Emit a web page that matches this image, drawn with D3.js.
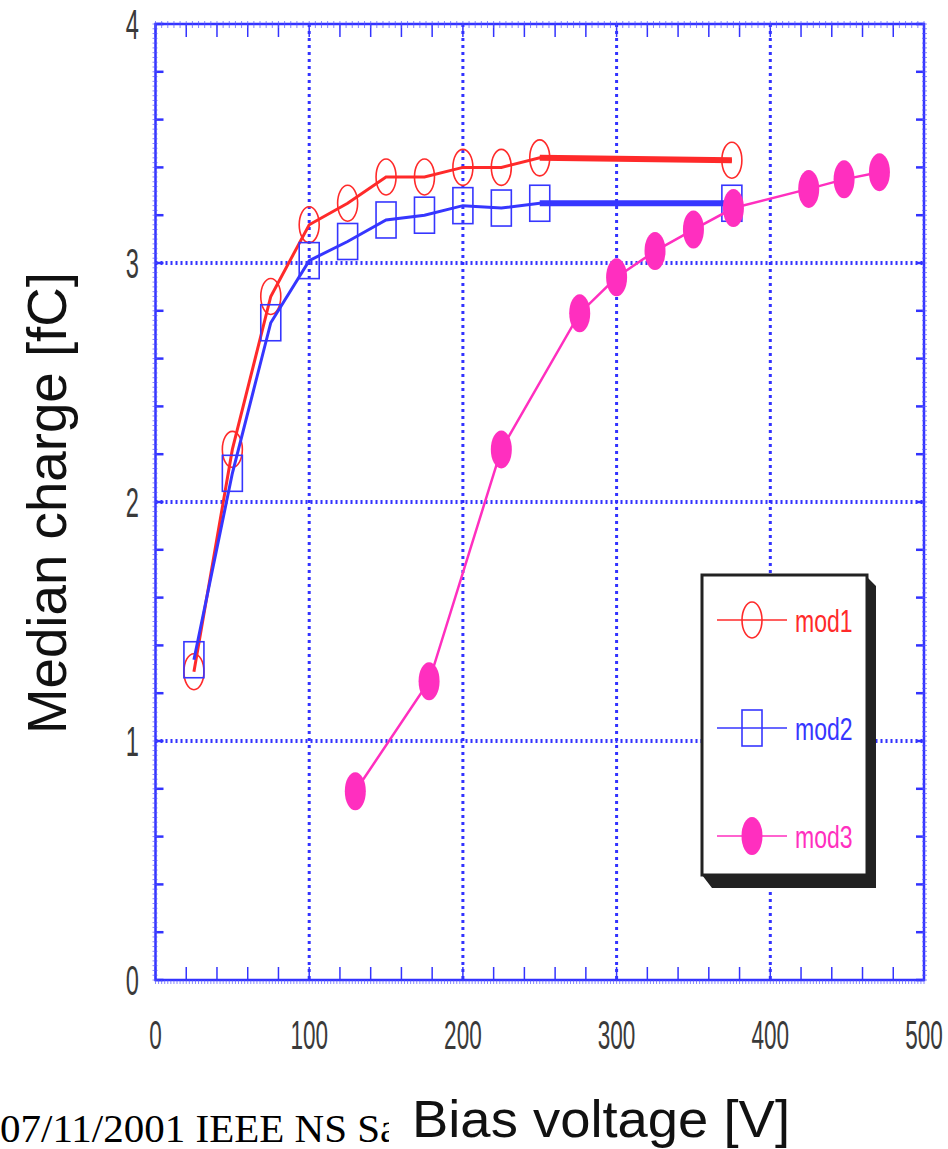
<!DOCTYPE html>
<html>
<head>
<meta charset="utf-8">
<script src="https://cdn.jsdelivr.net/npm/d3@7"></script>
<style>
  body { margin: 0; background: #fff; }
  svg { display: block; }
</style>
</head>
<body>
<div id="chart"></div>
<script>
// values
const mod12Volts = [25, 50, 75, 100, 125, 150, 175, 200, 225, 250, 375];
const mod1Charge = [1.29, 2.22, 2.86, 3.16, 3.25, 3.36, 3.36, 3.40, 3.40, 3.44, 3.43];
const mod2Charge = [1.34, 2.12, 2.75, 3.01, 3.09, 3.18, 3.20, 3.24, 3.23, 3.25, 3.25];
const mod3Volts = [130, 178, 225, 276, 300, 325, 350, 376, 425, 448, 471];
const mod3Charge = [0.79, 1.25, 2.22, 2.79, 2.94, 3.05, 3.14, 3.23, 3.31, 3.35, 3.38];
const xTicks = [0, 100, 200, 300, 400, 500];
const yTicks = [0, 1, 2, 3, 4];
const legendLabels = ["mod1", "mod2", "mod3"];

const W = 948, H = 1149;
const blue = "#3333ff";

const series = [
  {name: legendLabels[0], color: "#ff2a2a", marker: "circle", width: 3,
   data: mod12Volts.map((v, i) => ({v: v, q: mod1Charge[i]}))},
  {name: legendLabels[1], color: "#3636ff", marker: "square", width: 3,
   data: mod12Volts.map((v, i) => ({v: v, q: mod2Charge[i]}))},
  {name: legendLabels[2], color: "#ff2fbf", marker: "dot", width: 2.5,
   data: mod3Volts.map((v, i) => ({v: v, q: mod3Charge[i]}))}
];

const svg = d3.select("#chart")
  .append("svg")
  .attr("width", W)
  .attr("height", H);

svg.append("rect").attr("width", W).attr("height", H).attr("fill", "#fff");

const x = d3.scaleLinear().domain([0, 500]).range([155.5, 924]);
const y = d3.scaleLinear().domain([0, 4]).range([980, 24]);

// grid
const grid = svg.append("g");
grid.selectAll("line.vg")
  .data(xTicks.slice(1, -1))
  .join("line")
  .attr("x1", d => x(d)).attr("x2", d => x(d))
  .attr("y1", y(4)).attr("y2", y(0))
  .attr("stroke", blue).attr("stroke-width", 3)
  .attr("stroke-dasharray", "3,4");
grid.selectAll("line.hg")
  .data(yTicks.slice(1, -1))
  .join("line")
  .attr("x1", x(0)).attr("x2", x(500))
  .attr("y1", d => y(d)).attr("y2", d => y(d))
  .attr("stroke", blue).attr("stroke-width", 4)
  .attr("stroke-dasharray", "2,3");

// frame + ticks
const axes = svg.append("g").attr("stroke", blue);
axes.append("rect")
  .attr("x", x(0)).attr("y", y(4))
  .attr("width", x(500) - x(0)).attr("height", y(0) - y(4))
  .attr("fill", "none").attr("stroke-width", 2.5);

const xMinor = d3.range(0, 501, 20);
const xMicro = d3.range(0, 501, 2);
const yMinor = d3.range(0, 4.001, 0.2);
const yMicro = d3.range(0, 4.001, 0.02);

axes.selectAll("line.xb").data(xMinor).join("line")
  .attr("x1", d => x(d)).attr("x2", d => x(d))
  .attr("y1", y(0)).attr("y2", y(0) - 13).attr("stroke-width", 1.5);
axes.selectAll("line.xt").data(xMinor).join("line")
  .attr("x1", d => x(d)).attr("x2", d => x(d))
  .attr("y1", y(4)).attr("y2", y(4) + 13).attr("stroke-width", 1.5);
axes.selectAll("line.yl").data(yMinor).join("line")
  .attr("x1", x(0)).attr("x2", x(0) + 8)
  .attr("y1", d => y(d)).attr("y2", d => y(d)).attr("stroke-width", 2.5);
axes.selectAll("line.yr").data(yMinor).join("line")
  .attr("x1", x(500)).attr("x2", x(500) - 8)
  .attr("y1", d => y(d)).attr("y2", d => y(d)).attr("stroke-width", 2.5);

// tiny hatch along the axes
const hatch = svg.append("g").attr("stroke", "#5555ff").attr("stroke-width", 1).attr("opacity", 0.7);
hatch.selectAll("line.hb").data(xMicro).join("line")
  .attr("x1", d => x(d)).attr("x2", d => x(d))
  .attr("y1", y(0)).attr("y2", y(0) + 4);
hatch.selectAll("line.ht").data(xMicro.filter((d, i) => i % 2 == 0)).join("line")
  .attr("x1", d => x(d)).attr("x2", d => x(d))
  .attr("y1", y(4) - 3).attr("y2", y(4) + 4);
hatch.selectAll("line.hl").data(yMicro).join("line")
  .attr("x1", x(0) - 3).attr("x2", x(0) + 2)
  .attr("y1", d => y(d)).attr("y2", d => y(d));
hatch.selectAll("line.hr").data(yMicro).join("line")
  .attr("x1", x(500) - 2).attr("x2", x(500) + 3)
  .attr("y1", d => y(d)).attr("y2", d => y(d));

// tick labels (narrow look)
const tickFont = "Liberation Sans, Arial, sans-serif";
svg.selectAll("text.yl").data(yTicks).join("text")
  .attr("transform", d => `translate(139,${y(d) + 15}) scale(0.55,1)`)
  .attr("text-anchor", "end")
  .attr("font-family", tickFont).attr("font-size", 43)
  .attr("fill", "#3a3a3a")
  .text(d => d);
svg.selectAll("text.xl").data(xTicks).join("text")
  .attr("transform", d => `translate(${x(d)},1049) scale(0.55,1)`)
  .attr("text-anchor", "middle")
  .attr("font-family", tickFont).attr("font-size", 41)
  .attr("fill", "#3a3a3a")
  .text(d => d);

// markers
function drawMarker(g, s, cx, cy) {
  if (s.marker == "circle") {
    g.append("ellipse").attr("cx", cx).attr("cy", cy).attr("rx", 10).attr("ry", 18)
      .attr("fill", "none").attr("stroke", s.color).attr("stroke-width", 1.6);
  } else if (s.marker == "square") {
    g.append("rect").attr("x", cx - 10).attr("y", cy - 18).attr("width", 20).attr("height", 36)
      .attr("fill", "none").attr("stroke", s.color).attr("stroke-width", 1.6);
  } else {
    g.append("ellipse").attr("cx", cx).attr("cy", cy).attr("rx", 10.5).attr("ry", 19)
      .attr("fill", s.color);
  }
}

const line = d3.line().x(d => x(d.v)).y(d => y(d.q));
series.forEach(function(s) {
  const g = svg.append("g");
  g.append("path")
    .datum(s.data)
    .attr("fill", "none")
    .attr("stroke", s.color)
    .attr("stroke-width", s.width)
    .attr("d", line);
  // long flat extension is drawn heavier
  for (let i = 1; i < s.data.length; i++) {
    if (s.data[i].v - s.data[i - 1].v >= 100) {
      g.append("line")
        .attr("x1", x(s.data[i - 1].v)).attr("y1", y(s.data[i - 1].q))
        .attr("x2", x(s.data[i].v)).attr("y2", y(s.data[i].q))
        .attr("stroke", s.color).attr("stroke-width", 6);
    }
  }
  s.data.forEach(d => drawMarker(g, s, x(d.v), y(d.q)));
});

// legend box with shadow
const leg = svg.append("g");
leg.append("polygon")
  .attr("points", "702,875 867,875 867,577 876,586 876,888 712,888")
  .attr("fill", "#222");
leg.append("rect")
  .attr("x", 702).attr("y", 575).attr("width", 165).attr("height", 300)
  .attr("fill", "#fff").attr("stroke", "#222").attr("stroke-width", 3);
const legY = [620, 728, 836];
series.forEach(function(s, i) {
  const g = leg.append("g");
  g.append("line")
    .attr("x1", 717).attr("x2", 787).attr("y1", legY[i]).attr("y2", legY[i])
    .attr("stroke", s.color).attr("stroke-width", 1.5);
  drawMarker(g, s, 752, legY[i]);
  g.append("text")
    .attr("transform", `translate(795,${legY[i] + 12}) scale(0.72,1)`)
    .attr("font-family", tickFont).attr("font-size", 32)
    .attr("fill", s.color)
    .text(s.name);
});

// axis titles
svg.append("text")
  .attr("transform", "translate(66,503) rotate(-90)")
  .attr("text-anchor", "middle")
  .attr("font-family", tickFont).attr("font-size", 56)
  .attr("textLength", 462).attr("lengthAdjust", "spacingAndGlyphs")
  .attr("fill", "#111")
  .text("Median charge [fC]");

svg.append("text")
  .attr("x", 412).attr("y", 1137)
  .attr("font-family", tickFont).attr("font-size", 52)
  .attr("textLength", 378).attr("lengthAdjust", "spacingAndGlyphs")
  .attr("fill", "#111")
  .text("Bias voltage [V]");

// slide footer, cut off by the title box
svg.append("clipPath").attr("id", "footclip")
  .append("rect").attr("x", 0).attr("y", 1090).attr("width", 389).attr("height", 60);
svg.append("text")
  .attr("clip-path", "url(#footclip)")
  .attr("x", 0).attr("y", 1142)
  .attr("font-family", "Liberation Serif, Times New Roman, serif").attr("font-size", 41)
  .attr("fill", "#000")
  .text("07/11/2001 IEEE NS Sa");
</script>
</body>
</html>
